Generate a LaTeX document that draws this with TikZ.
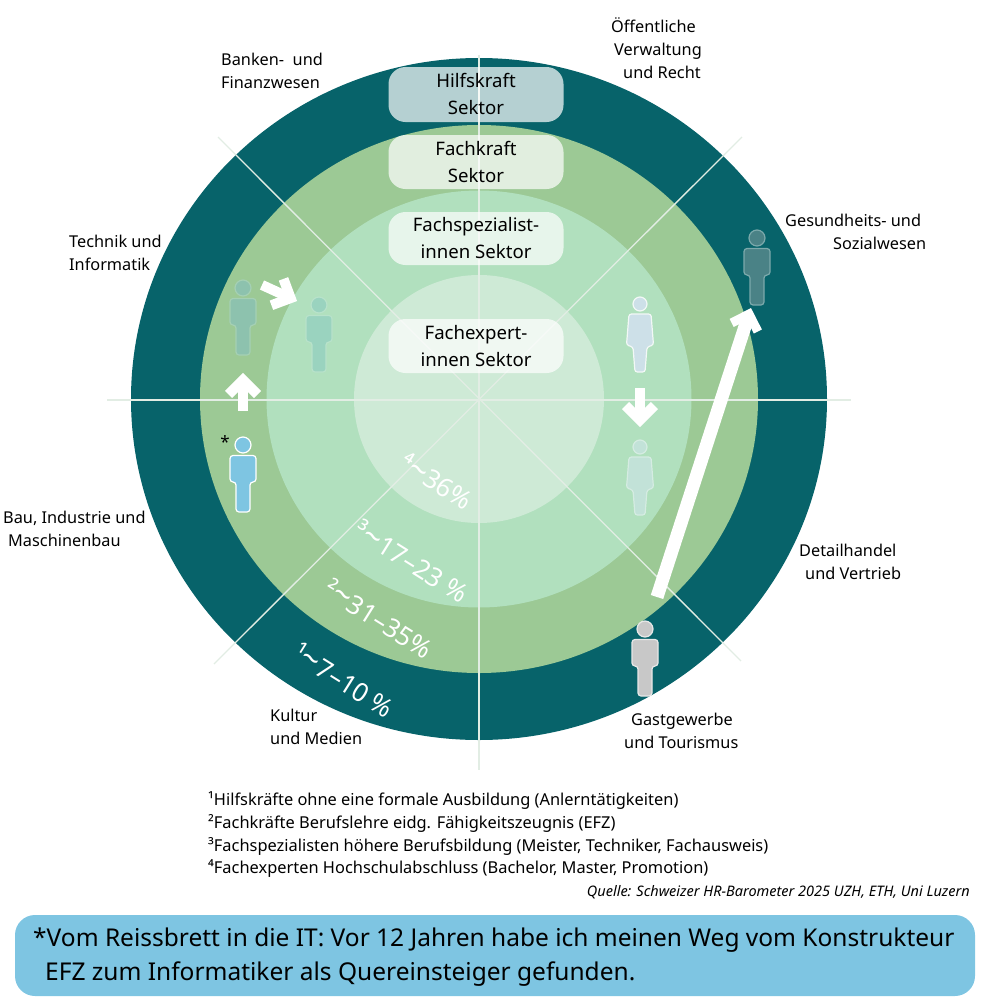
\documentclass[tikz,border=0pt]{standalone}
\usepackage{fontspec}
\setmainfont{Noto Sans}
\usetikzlibrary{calc}
\definecolor{ringa}{HTML}{07636A}
\definecolor{ringb}{HTML}{9CC995}
\definecolor{ringc}{HTML}{B1E0BE}
\definecolor{ringd}{HTML}{CEEAD6}
\definecolor{spoke}{HTML}{E2EDE4}
\definecolor{panel}{HTML}{7EC5E2}
\definecolor{manaf}{HTML}{8DC2AE}
\definecolor{manad}{HTML}{A5D0B4}
\definecolor{manbf}{HTML}{9AD3BF}
\definecolor{manbd}{HTML}{B8E2CA}
\definecolor{mantf}{HTML}{4A8286}
\definecolor{mantd}{HTML}{7CA9AB}
\definecolor{mangf}{HTML}{C8C8C8}
\definecolor{mangd}{HTML}{E8E8E8}
\definecolor{womaf}{HTML}{CDE0E8}
\definecolor{womad}{HTML}{F2F8F6}
\definecolor{wombf}{HTML}{C2E2D8}
\definecolor{wombd}{HTML}{D5ECE2}
\newcommand{\bigtilde}{{\fontsize{32}{30}\selectfont\char"7E}}
\tikzset{
  x=1pt,y=-1pt,
  sector/.style={draw=none,fill=white,rounded corners=17pt,minimum width=175pt,inner sep=0pt,align=center,text=black,font=\fontsize{18.6}{27}\selectfont},
  lbl/.style={anchor=north west,inner sep=0pt,align=left,text=black,font=\fontsize{16.3}{23}\selectfont},
  note/.style={anchor=west,inner sep=0pt,text=black,font=\fontsize{16.4}{19}\selectfont},
  share/.style={inner sep=0pt,text=white,rotate=-32,font=\fontsize{26}{30}\selectfont},
  spokeline/.style={draw=spoke,line width=1.3pt},
}
% man at head centre
\newcommand{\manfig}[4]{%
  \begin{scope}[shift={(#1,#2)},draw=#4,fill=#3,line width=1.2pt]
    \filldraw (0,0) circle[radius=8pt];
    \filldraw[rounded corners=3pt] (-13,10.5) -- (13,10.5) -- (13,37) -- (7,37) -- (7,67) -- (-7,67) -- (-7,37) -- (-13,37) -- cycle;
  \end{scope}}
\newcommand{\womanfig}[4]{%
  \begin{scope}[shift={(#1,#2)},draw=#4,fill=#3,line width=1.2pt]
    \filldraw (0,0) circle[radius=7pt];
    \filldraw[rounded corners=2.5pt] (-11,10) -- (11,10) -- (13.5,41) -- (7,43) -- (5,68) -- (-5,68) -- (-7,43) -- (-13.5,41) -- cycle;
  \end{scope}}
% tail, tip, shaft width, chevron width, apex setback, arm length
\newcommand{\blockarrow}[6]{%
  \coordinate (apx) at ($(#2)!#5pt!(#1)$);
  \coordinate (wgl) at ($(apx)!#6pt!135:(#2)$);
  \coordinate (wgr) at ($(apx)!#6pt!-135:(#2)$);
  \draw[white,line width=#3pt] (#1) -- (apx);
  \draw[white,line width=#4pt,miter limit=10] (wgl) -- (apx) -- (wgr);}
\begin{document}
\begin{tikzpicture}
\useasboundingbox (0,0) rectangle (982,1002);
\coordinate (c) at (479,399);
% rings
\fill[ringa] (c) ellipse[x radius=348pt,y radius=341pt];
\fill[ringb] (c) ellipse[x radius=279pt,y radius=274pt];
\fill[ringc] (c) ellipse[x radius=212.5pt,y radius=208.5pt];
\fill[ringd] (c) ellipse[x radius=125pt,y radius=124pt];
% spokes
\coordinate (n) at (479,55);  \coordinate (s) at (479,770);
\coordinate (w) at (107,400); \coordinate (e) at (851,400);
\coordinate (nw) at (218,137); \coordinate (se) at (741,661);
\coordinate (ne) at (742,137); \coordinate (sw) at (214,664);
\draw[spokeline] (n) -- (s);
\draw[spokeline] (w) -- (e);
\draw[spokeline] (nw) -- (se);
\draw[spokeline] (ne) -- (sw);
% sector boxes
\node[sector,fill opacity=.7,text opacity=1,minimum height=55pt] (hilf) at (476,94.5) {\raisebox{1pt}{Hilfskraft}\\\raisebox{1pt}{Sektor}};
\node[sector,fill opacity=.7,text opacity=1,minimum height=54pt] (fach) at (476,162) {\raisebox{1pt}{Fachkraft}\\\raisebox{1pt}{Sektor}};
\node[sector,fill opacity=.7,text opacity=1,minimum height=53pt] (spez) at (476,238.5) {\raisebox{1pt}{Fachspezialist-}\\\raisebox{1pt}{innen Sektor}};
\node[sector,fill opacity=.7,text opacity=1,minimum height=54pt] (expe) at (476,346) {\raisebox{1pt}{Fachexpert-}\\\raisebox{1pt}{innen Sektor}};
% persons
\manfig{243}{288}{manaf}{manad}
\manfig{319}{305}{manbf}{manbd}
\manfig{243}{445}{panel}{white}
\manfig{757}{238}{mantf}{mantd}
\manfig{645}{629}{mangf}{mangd}
\womanfig{640}{304}{womaf}{womad}
\womanfig{640}{447}{wombf}{wombd}
% arrows
\coordinate (upa) at (243,411);  \coordinate (upb) at (243,373);
\coordinate (rda) at (262,285);  \coordinate (rdb) at (297,301);
\coordinate (dna) at (640,388);  \coordinate (dnb) at (640,427);
\coordinate (lga) at (657,597);  \coordinate (lgb) at (751,308);
\blockarrow{upa}{upb}{10}{10}{7}{20.5}
\blockarrow{rda}{rdb}{10}{10}{7}{20.5}
\blockarrow{dna}{dnb}{10}{10}{7}{20.5}
\blockarrow{lga}{lgb}{13}{9}{6.4}{19.5}
% star
\node[inner sep=0pt,text=black,font=\fontsize{17}{17}\selectfont\bfseries] (star) at (225,442) {*};
% shares
\node[share] (s1) at (344,680) {¹\bigtilde 7–10 \%};
\node[share] (s2) at (379,618) {²\bigtilde 31–35\%};
\node[share] (s3) at (412,561) {³\bigtilde 17–23 \%};
\node[share] (s4) at (437,481) {⁴\bigtilde 36\%};
% sector names
\node[lbl] (l1) at (221,52.5) {Banken-\ \ und\\Finanzwesen};
\node[lbl] (l2) at (611,17) {Öffentliche\\\hspace*{3pt}Verwaltung\\\hspace*{12pt}und Recht};
\node[lbl] (l3) at (785,214) {Gesundheits- und\\\hspace*{48pt}Sozialwesen};
\node[lbl] (l4) at (69,234.5) {Technik und\\Informatik};
\node[lbl] (l5) at (3,510.5) {Bau, Industrie und\\\hspace*{5pt}Maschinenbau};
\node[lbl] (l6) at (799,543.5) {Detailhandel\\\hspace*{6pt}und Vertrieb};
\node[lbl] (l7) at (270,708.5) {Kultur\\und Medien};
\node[lbl] (l8) at (624,712.5) {\hspace*{7pt}Gastgewerbe\\und Tourismus};
% notes
\node[note] (n1) at (208,801) {¹Hilfskräfte ohne eine formale Ausbildung (Anlerntätigkeiten)};
\node[note] (n2) at (208,823) {²Fachkräfte Berufslehre eidg. Fähigkeitszeugnis (EFZ)};
\node[note] (n3) at (208,846) {³Fachspezialisten höhere Berufsbildung (Meister, Techniker, Fachausweis)};
\node[note] (n4) at (208,869) {⁴Fachexperten Hochschulabschluss (Bachelor, Master, Promotion)};
\node[anchor=east,inner sep=0pt,text=black,font=\fontsize{14.5}{16}\selectfont\itshape] (src) at (970,892.5) {Quelle: Schweizer HR-Barometer 2025 UZH, ETH, Uni Luzern};
% panel
\node[fill=panel,rounded corners=20pt,minimum width=960pt,minimum height=81pt,inner sep=0pt] (box) at (495,955.5) {};
\node[anchor=north west,inner sep=0pt,align=left,text=black,font=\fontsize{24.5}{34}\selectfont] (boxtxt) at (33,928) {*Vom Reissbrett in die IT: Vor 12 Jahren habe ich meinen Weg vom Konstrukteur\\\hspace*{12pt}EFZ zum Informatiker als Quereinsteiger gefunden.};
\end{tikzpicture}
\end{document}
